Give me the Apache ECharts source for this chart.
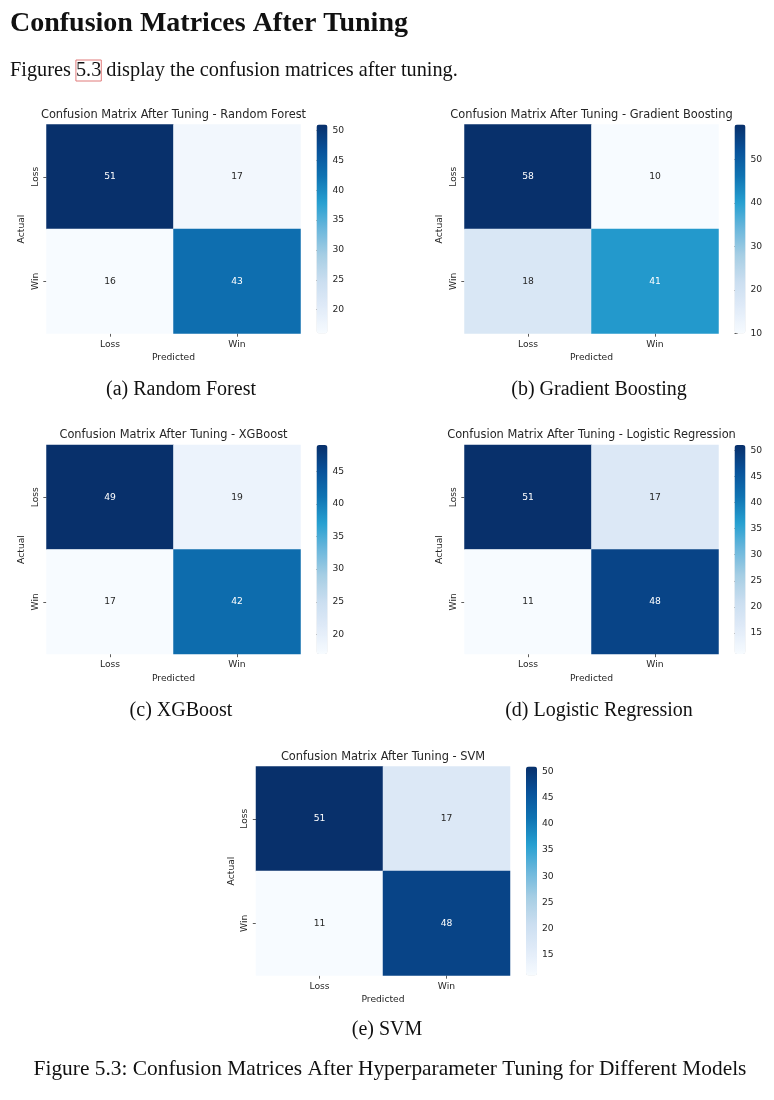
<!DOCTYPE html>
<html>
<head>
<meta charset="utf-8">
<script src="https://cdn.jsdelivr.net/npm/echarts@6/dist/echarts.min.js"></script>
<style>
html,body{margin:0;padding:0;background:#fff;}
#chart{width:774px;height:1100px;}
</style>
</head>
<body>
<div id="chart"></div>
<script>
// ---------------- DATA ----------------
const classes = ['Loss', 'Win'];
const modelNames = ['Random Forest', 'Gradient Boosting', 'XGBoost', 'Logistic Regression', 'SVM'];
const subCaptions = ['(a) Random Forest', '(b) Gradient Boosting', '(c) XGBoost', '(d) Logistic Regression', '(e) SVM'];
// rows = actual (Loss, Win), columns = predicted (Loss, Win)
const rfMatrix  = [[51, 17], [16, 43]];
const gbMatrix  = [[58, 10], [18, 41]];
const xgbMatrix = [[49, 19], [17, 42]];
const lrMatrix  = [[51, 17], [11, 48]];
const svmMatrix = [[51, 17], [11, 48]];
const rfTicks  = [20, 25, 30, 35, 40, 45, 50];
const gbTicks  = [10, 20, 30, 40, 50];
const xgbTicks = [20, 25, 30, 35, 40, 45];
const lrTicks  = [15, 20, 25, 30, 35, 40, 45, 50];
const svmTicks = [15, 20, 25, 30, 35, 40, 45, 50];
const headingText = 'Confusion Matrices After Tuning';
const introBefore = 'Figures ';
const introRef = '5.3';
const introAfter = ' display the confusion matrices after tuning.';
const figureCaption = 'Figure 5.3: Confusion Matrices After Hyperparameter Tuning for Different Models';

// ---------------- LAYOUT / STYLE ----------------
const matrices = [rfMatrix, gbMatrix, xgbMatrix, lrMatrix, svmMatrix];
const tickSets = [rfTicks, gbTicks, xgbTicks, lrTicks, svmTicks];
const panels = [
  {left: 46.5, top: 124.5, capX: 181, capY: 390},
  {left: 464.5, top: 124.5, capX: 599, capY: 390},
  {left: 46.5, top: 445, capX: 181, capY: 711},
  {left: 464.5, top: 445, capX: 599, capY: 711},
  {left: 256, top: 766.5, capX: 387, capY: 1030}
];
const GW = 254, GH = 209, CB_OFF = 270, CB_W = 11;
const SANS = '"DejaVu Sans", sans-serif';
const SERIF = '"Liberation Serif", serif';
const TXT = '#262626';
const LBL = 9.2, TTL = 11.4;
const blues = ['#f7fbff', '#e0ebf8', '#cadef0', '#a6cee4', '#6bb7dc', '#27a0d1', '#0f74b3', '#08529a', '#08306b'];

const grids = [], xAxes = [], yAxes = [], series = [], visualMaps = [], graphics = [];

matrices.forEach((m, i) => {
  const p = panels[i];
  const flat = m.flat();
  const vmin = Math.min(...flat), vmax = Math.max(...flat);
  // heatmap grid
  grids.push({left: p.left, top: p.top, width: GW, height: GH, containLabel: false});
  const gi = grids.length - 1;
  xAxes.push({
    gridIndex: gi, type: 'category', data: classes, position: 'bottom',
    name: 'Predicted', nameLocation: 'middle', nameGap: 20,
    nameTextStyle: {fontFamily: SANS, fontSize: LBL, color: TXT},
    axisLine: {show: false},
    axisTick: {show: true, alignWithLabel: true, length: 3.2, lineStyle: {color: '#333', width: 0.8}},
    axisLabel: {fontFamily: SANS, fontSize: LBL, color: TXT, margin: 6.5},
    splitLine: {show: false}
  });
  yAxes.push({
    gridIndex: gi, type: 'category', data: classes, inverse: true,
    name: 'Actual', nameLocation: 'middle', nameGap: 20, nameRotate: 90,
    nameTextStyle: {fontFamily: SANS, fontSize: LBL, color: TXT},
    axisLine: {show: false},
    axisTick: {show: true, alignWithLabel: true, length: 3.2, lineStyle: {color: '#333', width: 0.8}},
    axisLabel: {fontFamily: SANS, fontSize: LBL, color: TXT, rotate: 90, margin: 6.5},
    splitLine: {show: false}
  });
  const data = [];
  m.forEach((row, r) => row.forEach((v, c) => {
    const t = (v - vmin) / (vmax - vmin);
    data.push({value: [c, r, v], label: {color: t > 0.55 ? '#ffffff' : TXT}});
  }));
  series.push({
    type: 'heatmap', xAxisIndex: xAxes.length - 1, yAxisIndex: yAxes.length - 1,
    data: data,
    label: {show: true, fontFamily: SANS, fontSize: LBL},
    itemStyle: {borderWidth: 0},
    emphasis: {disabled: true}
  });
  const si = series.length - 1;
  visualMaps.push({
    type: 'continuous', seriesIndex: si, min: vmin, max: vmax,
    calculable: false, text: null, orient: 'vertical',
    left: p.left + CB_OFF, top: p.top, itemWidth: CB_W, itemHeight: GH,
    padding: 0, inRange: {color: blues}, hoverLink: false
  });
  // colorbar axis
  grids.push({left: p.left + CB_OFF, top: p.top, width: CB_W, height: GH});
  const ci = grids.length - 1;
  xAxes.push({gridIndex: ci, type: 'value', show: false, min: 0, max: 1});
  yAxes.push({
    gridIndex: ci, type: 'value', position: 'right', min: vmin, max: vmax,
    axisLine: {show: false}, splitLine: {show: false},
    axisTick: {show: true, length: 3.2, customValues: tickSets[i], lineStyle: {color: '#333', width: 0.8}},
    axisLabel: {fontFamily: SANS, fontSize: LBL, color: TXT, margin: 5, customValues: tickSets[i]}
  });
  // panel title & subcaption
  graphics.push({type: 'text', x: p.left + GW / 2, y: p.top - 9.5,
    style: {text: 'Confusion Matrix After Tuning - ' + modelNames[i], font: TTL + 'px ' + SANS, fill: TXT, align: 'center', verticalAlign: 'middle'}});
  graphics.push({type: 'text', x: p.capX, y: p.capY,
    style: {text: subCaptions[i], font: '20px ' + SERIF, fill: '#111', align: 'center', verticalAlign: 'middle'}});
});

graphics.push({type: 'text', x: 10, y: 24,
  style: {text: headingText, font: 'bold 28px ' + SERIF, fill: '#111', align: 'left', verticalAlign: 'middle'}});
graphics.push({type: 'text', x: 10, y: 70.5,
  style: {
    text: '{a|' + introBefore + '}{b|' + introRef + '}{a|' + introAfter + '}',
    align: 'left', verticalAlign: 'middle',
    rich: {
      a: {font: '20.3px ' + SERIF, fill: '#111'},
      b: {font: '20.3px ' + SERIF, fill: '#111', borderColor: '#e07a7a', borderWidth: 1, padding: [1, 0, 0, 0]}
    }
  }});
graphics.push({type: 'text', x: 390, y: 1069,
  style: {text: figureCaption, font: '21.4px ' + SERIF, fill: '#111', align: 'center', verticalAlign: 'middle'}});

const chart = echarts.init(document.getElementById('chart'), null, {renderer: 'canvas'});
chart.setOption({
  animation: false,
  backgroundColor: '#ffffff',
  grid: grids, xAxis: xAxes, yAxis: yAxes, series: series,
  visualMap: visualMaps, graphic: graphics, tooltip: {show: false}
});
</script>
</body>
</html>
